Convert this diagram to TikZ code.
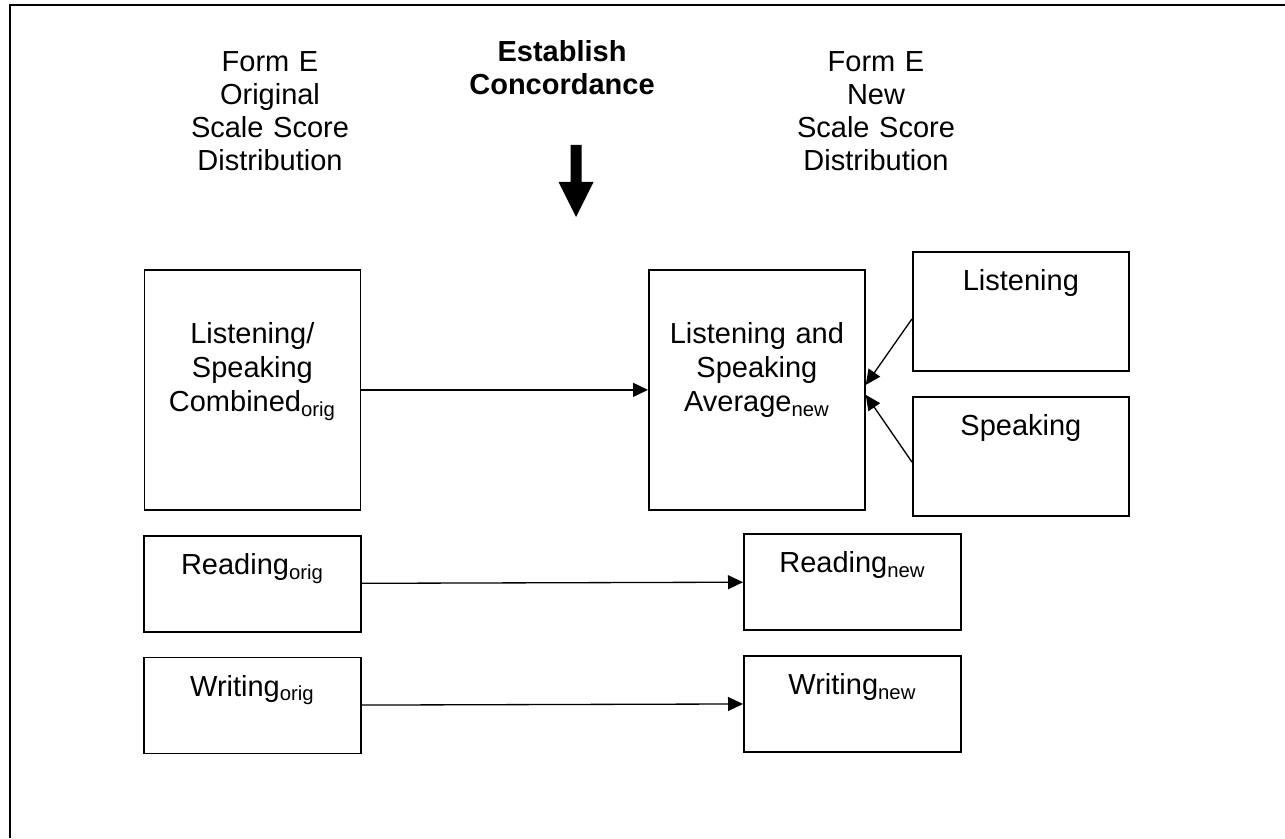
\documentclass[tikz,border=0pt]{standalone}
\usepackage{fontspec}
\setmainfont{Liberation Sans}
\usepackage{tikz}
\usetikzlibrary{arrows.meta,positioning}
\tikzset{
  sbox/.style={draw,line width=1pt,inner sep=0pt,align=center,
    font=\fontsize{16.5}{19.3}\selectfont},
  tallbox/.style={sbox,text width=4.32cm,text height=1.48cm,text depth=3.32cm},
  midbox/.style={sbox,text width=4.32cm,text height=0.78cm,text depth=1.6cm},
  flatbox/.style={sbox,text width=4.34cm,text height=0.78cm,text depth=1.14cm},
  headtext/.style={align=center,inner sep=0pt,text width=5.5cm,anchor=base,
    font=\fontsize{16.5}{18.6}\selectfont},
  link/.style={-{Triangle[length=3mm,width=2.8mm]},line width=0.75pt}
}
\begin{document}
\begin{tikzpicture}[x=1cm,y=1cm]
  \useasboundingbox (0,0) rectangle (25.7,16.76);
  \draw[line width=1.2pt] (0.2,0) -- (0.2,16.66) -- (25.7,16.66);

  % column headings
  \node[headtext] (hdorig) at (5.40,15.32) {Form E\\Original\\Scale Score\\Distribution};
  \node[headtext,font=\fontsize{16.5}{18.6}\selectfont\bfseries] (hdmid) at (11.24,15.52)
    {Establish\\Concordance};
  \node[headtext] (hdnew) at (17.52,15.32) {Form E\\New\\Scale Score\\Distribution};
  \fill (11.41,13.86) -- (11.63,13.86) -- (11.63,13.12) -- (11.87,13.12) -- (11.52,12.42)
    -- (11.17,13.12) -- (11.41,13.12) -- cycle;

  % original scale
  \node[tallbox,anchor=north west] (lsc) at (2.87,11.38)
    {Listening/\\Speaking\\Combined\textsubscript{orig}};
  \node[flatbox,below=0.48cm of lsc] (readorig) {Reading\textsubscript{orig}};
  \node[flatbox,below=0.48cm of readorig] (writeorig) {Writing\textsubscript{orig}};

  % new scale
  \node[tallbox,anchor=north west] (avg) at (12.96,11.38)
    {Listening and\\Speaking\\Average\textsubscript{new}};
  \node[midbox,anchor=north west] (listen) at (18.24,11.74) {Listening};
  \node[midbox,below=0.48cm of listen] (speak) {Speaking};
  \node[flatbox,anchor=north west] (readnew) at (14.86,6.10) {Reading\textsubscript{new}};
  \node[flatbox,below=0.48cm of readnew] (writenew) {Writing\textsubscript{new}};

  \draw[link] (lsc.east) -- (avg.west);
  \draw[link] ([yshift=-0.15cm]listen.west) -- ([yshift=0.1cm]avg.east);
  \draw[link] ([yshift=-0.12cm]speak.west) -- ([yshift=-0.1cm]avg.east);
  \draw[link] (readorig) -- (readnew);
  \draw[link] (writeorig) -- (writenew);
\end{tikzpicture}
\end{document}
